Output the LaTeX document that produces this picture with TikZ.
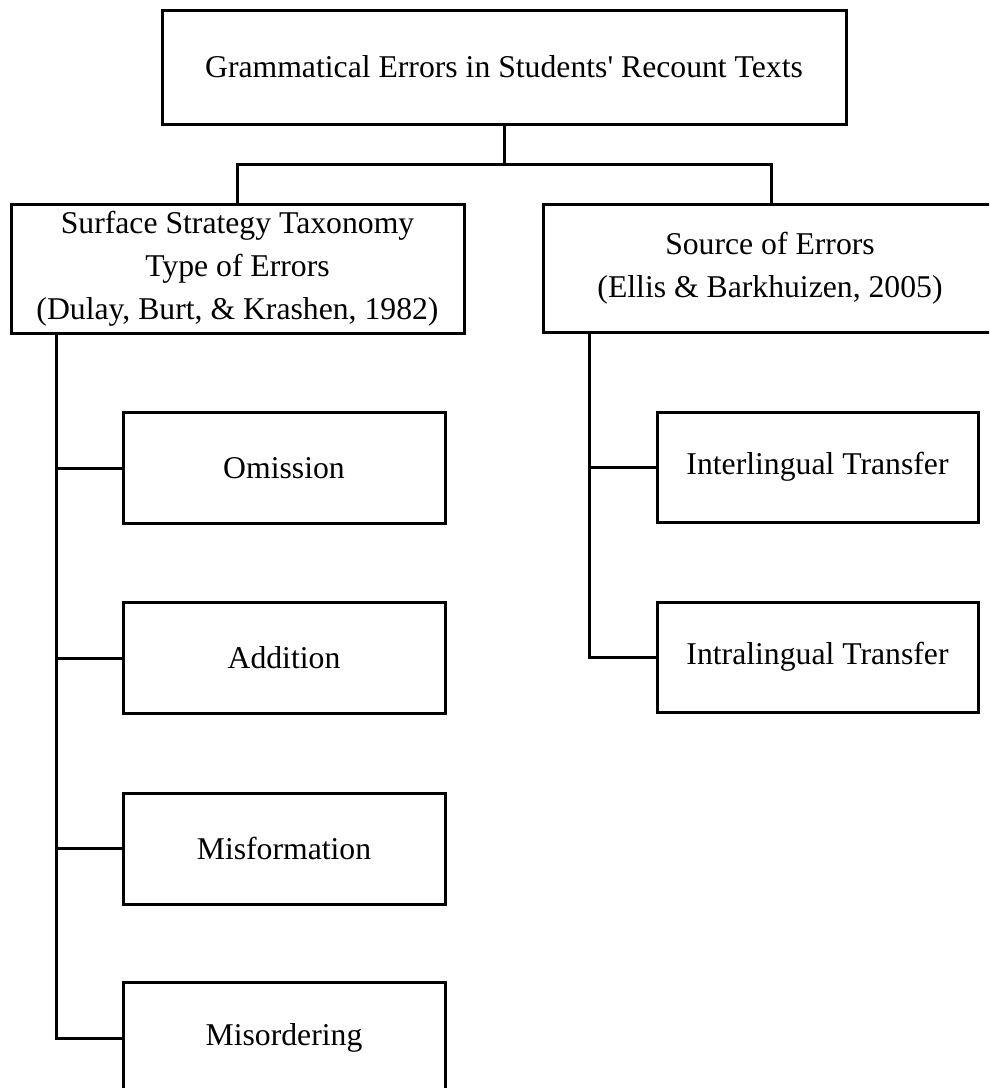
\documentclass[tikz,border=0pt]{standalone}
\usepackage{fontspec}
\setmainfont{Liberation Serif}[Ligatures=TeXOff]
\begin{document}
\begin{tikzpicture}[x=1pt,y=-1pt,
  box/.style={draw=black,line width=3pt,inner sep=0pt,align=center,
    font=\fontsize{31.7}{43}\selectfont},
  leaf/.style={box,minimum width=322pt,minimum height=111pt},
  wire/.style={draw=black,line width=3pt}]
\useasboundingbox (0,0) rectangle (989,1088);
\clip (0,0) rectangle (989,1088);
\fill[white] (0,0) rectangle (989,1088);
\node[box,minimum width=684pt,minimum height=114pt] (top) at (504,67) {Grammatical Errors in Students' Recount Texts};
\node[box,minimum width=453pt,minimum height=129pt] (sst) at (237.5,268.5) {Surface Strategy Taxonomy\\Type of Errors\\(Dulay, Burt, \& Krashen, 1982)};
\node[box,minimum width=454pt,minimum height=128pt] (src) at (770,268) {Source of Errors\\(Ellis \& Barkhuizen, 2005)};
\node[leaf] (om) at (284,468) {Omission};
\node[leaf] (ad) at (284,658) {Addition};
\node[leaf] (mf) at (284,848.5) {Misformation};
\node[leaf] (mo) at (284,1038) {Misordering};
\node[leaf,minimum width=321pt,minimum height=110pt] (inter) at (817.5,467) {Interlingual Transfer};
\node[leaf,minimum width=321pt,minimum height=110pt] (intra) at (817.5,657) {Intralingual Transfer};
\coordinate (jl) at (237,164);
\coordinate (jr) at (771,164);
\coordinate (lt) at (56,333);
\coordinate (rt) at (589,332);
\draw[wire] (top.south) -- (top.south |- jl);
\draw[wire] (sst.north -| jl) -- (jl) -- (jr) -- (src.north -| jr);
\draw[wire] (lt |- sst.south) -- (lt |- mo.west) -- (mo.west);
\draw[wire] (lt |- om.west) -- (om.west);
\draw[wire] (lt |- ad.west) -- (ad.west);
\draw[wire] (lt |- mf.west) -- (mf.west);
\draw[wire] (rt |- src.south) -- (rt |- intra.west) -- (intra.west);
\draw[wire] (rt |- inter.west) -- (inter.west);
\end{tikzpicture}
\end{document}
